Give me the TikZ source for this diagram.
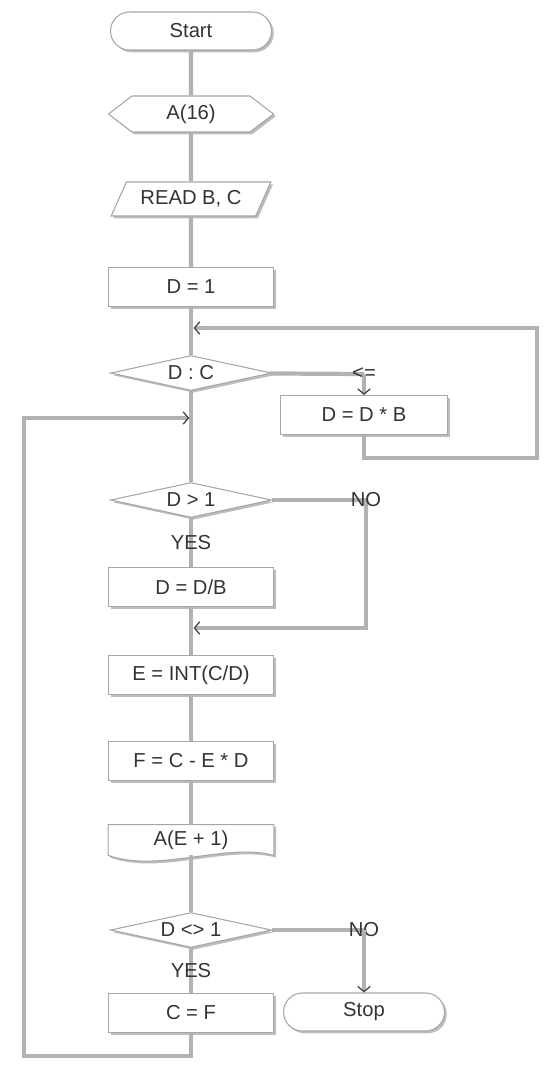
\documentclass[tikz,border=0pt]{standalone}
\usepackage{fontspec}
\setmainfont{Liberation Sans}
\usepackage{tikz}
\usetikzlibrary{shapes.geometric, shapes.symbols, shadows, arrows.meta, backgrounds}

\tikzset{
  box/.style={draw=gray!70, fill=white, line width=0.6pt,
    drop shadow={shadow xshift=1.3pt, shadow yshift=-1.3pt, fill=gray!65, opacity=0.8},
    minimum width=3.3cm, minimum height=0.78cm,
    font=\fontsize{11.5}{13}\selectfont, text=black!80},
  term/.style={box, rounded corners=0.38cm, minimum width=3.22cm, minimum height=0.76cm},
  prep/.style={box, signal, signal to=west and east, signal pointer angle=75,
    minimum width=3.3cm, minimum height=0.72cm},
  io/.style={box, trapezium, trapezium left angle=65, trapezium right angle=115,
    trapezium stretches=true, minimum width=3.2cm, minimum height=0.68cm},
  cond/.style={box, diamond, aspect=4.5, inner sep=0pt, minimum width=3.22cm, minimum height=0.7cm},
  line/.style={draw=gray!60, line width=2.4pt},
  tip/.style={-{Straight Barb[length=3pt, width=7pt, line width=0.7pt, color=black!75]}},
  lbl/.style={font=\fontsize{11.5}{13}\selectfont, text=black!80, inner sep=1pt},
}

\begin{document}
\begin{tikzpicture}[x=0.02cm, y=-0.02cm]
    \useasboundingbox (0,0) rectangle (550,1072);
    % Main column
    \node[term] (start) at (191,31) {Start};
    \node[prep] (arr) at (191,114) {A(16)};
    \node[io] (rd) at (191,199) {READ B, C};
    \node[box] (d1) at (191,287) {D = 1};
    \node[cond] (dc) at (191,373) {D : C};
    \node[box, minimum width=3.34cm] (ddb) at (364,415) {D = D * B};
    \node[cond] (dg) at (191,500) {D > 1};
    \node[box] (ddiv) at (191,587) {D = D/B};
    \node[box] (e) at (191,675) {E = INT(C/D)};
    \node[box] (f) at (191,761) {F = C - E * D};
    \node[lbl, minimum width=3.3cm, minimum height=0.6cm] (ae) at (191,840) {A(E + 1)};
    \node[cond] (dn) at (191,930) {D <> 1};
    \node[box] (cf) at (191,1013) {C = F};
    \node[term] (stop) at (364,1012) {Stop};
    % Output document shape
    \begin{scope}[on background layer]
        \draw[draw=gray!70, fill=white, line width=0.6pt,
              drop shadow={shadow xshift=1.3pt, shadow yshift=-1.3pt, fill=gray!65, opacity=0.8}]
            (ae.south east) -- (ae.north east) -- (ae.north west) -- (ae.south west)
            .. controls +(50,18) and +(-48,-13) .. (ae.south east) -- cycle;
    \end{scope}

    % Main flow
    \foreach \a/\b in {start/arr, arr/rd, rd/d1, d1/dc, dc/dg, ddiv/e, e/f, f/ae, ae/dn}
        \draw[line] (\a) -- (\b);
    \draw[line] (dg) -- node[lbl] {YES} (ddiv);
    \draw[line] (dn) -- node[lbl] {YES} (cf);

    % Loop D : C
    \coordinate (c0) at (364,374);
    \coordinate (r1) at (537,458);
    \coordinate (r2) at (537,328);
    \coordinate (m1) at (191,328);
    \draw[line] (dc) -- (c0) node[lbl] {<=};
    \draw[line, tip] (c0) -- (ddb);
    \draw[line, tip, shorten >=1.5pt] (ddb) |- (r1) -- (r2) -- (m1);

    % Branch D > 1
    \coordinate (c1) at (366,500);
    \coordinate (m3) at (191,628);
    \draw[line, tip, shorten >=1.5pt] (dg) -- (c1) node[lbl] {NO} |- (m3);

    % Branch D <> 1
    \coordinate (c2) at (364,930);
    \draw[line] (dn) -- (c2) node[lbl] {NO};
    \draw[line, tip] (c2) -- (stop);

    % Back to the top
    \coordinate (l1) at (24,1056);
    \coordinate (l2) at (24,418);
    \coordinate (m2) at (191,418);
    \draw[line, tip, shorten >=1pt] (cf) |- (l1) -- (l2) -- (m2);
\end{tikzpicture}
\end{document}
